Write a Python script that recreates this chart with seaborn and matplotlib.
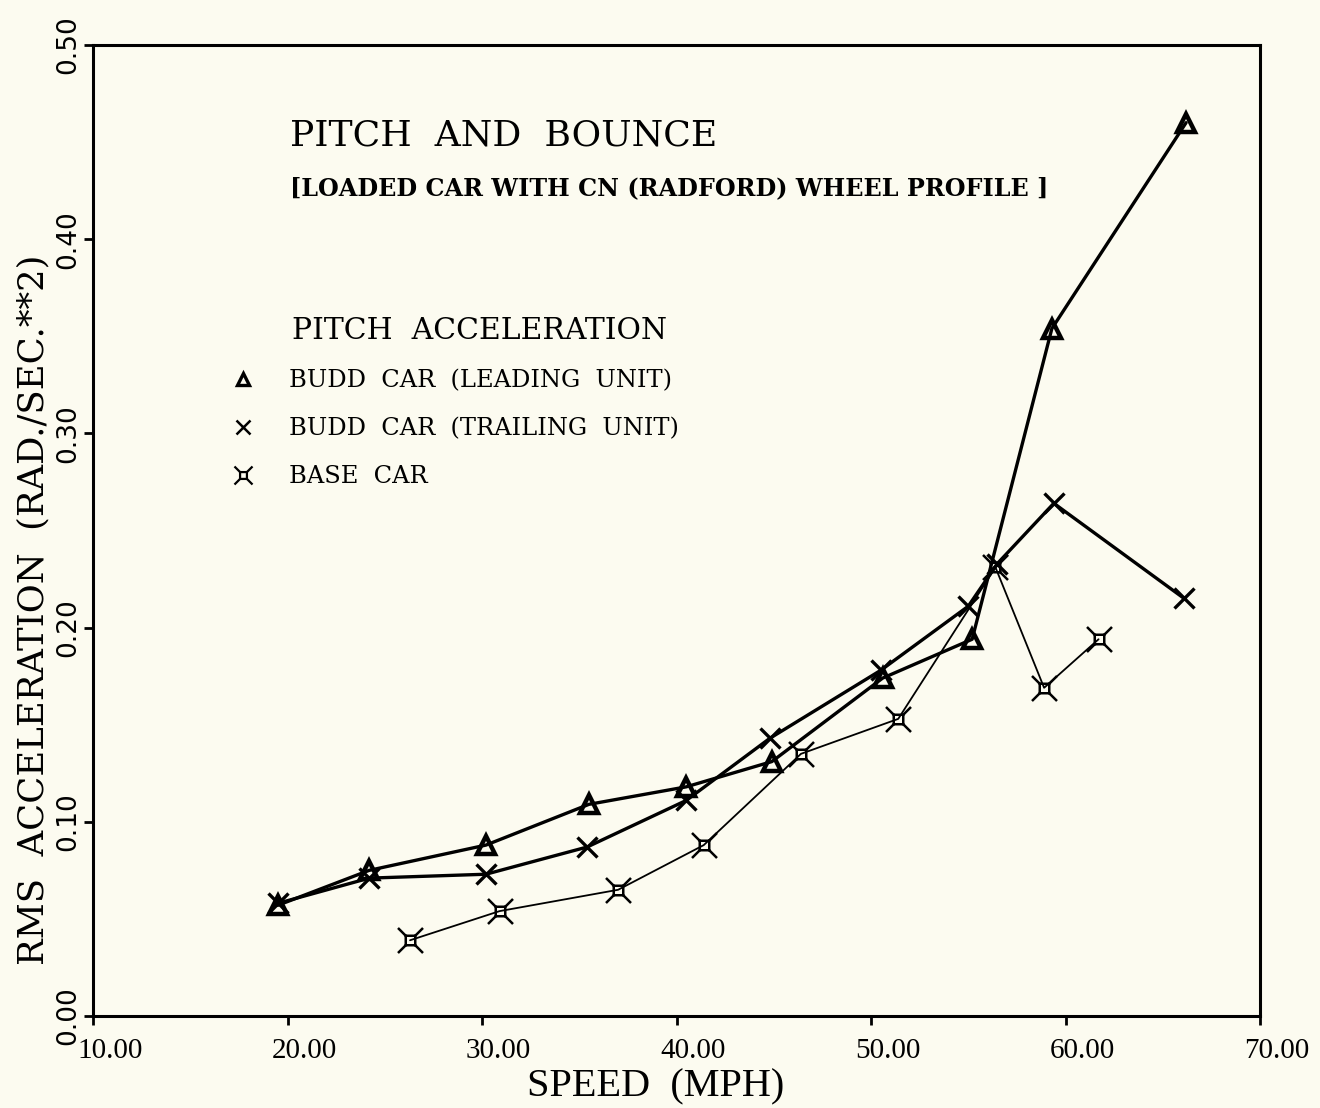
import numpy as np
import pandas as pd
import matplotlib
matplotlib.use("Agg")
import matplotlib.pyplot as plt
from matplotlib.path import Path
from matplotlib.lines import Line2D
import matplotlib.transforms as mtransforms
import seaborn as sns

# ---- data ----
lead_speed = [19.5, 24.2, 30.2, 35.5, 40.5, 44.9, 50.6, 55.2, 59.3, 66.2]
lead_acc   = [0.057, 0.075, 0.088, 0.109, 0.118, 0.131, 0.174, 0.194, 0.354, 0.460]

trail_speed = [19.5, 24.2, 30.2, 35.4, 40.5, 44.8, 50.5, 55.0, 56.5, 59.4, 66.1]
trail_acc   = [0.058, 0.071, 0.073, 0.087, 0.111, 0.143, 0.178, 0.211, 0.233, 0.264, 0.215]

base_speed = [26.3, 30.9, 37.0, 41.4, 46.4, 51.4, 56.4, 58.9, 61.7]
base_acc   = [0.039, 0.054, 0.065, 0.088, 0.135, 0.153, 0.231, 0.169, 0.194]

series_names = ["BUDD CAR (LEADING UNIT)", "BUDD CAR (TRAILING UNIT)", "BASE CAR"]
x_ticks = [10, 20, 30, 40, 50, 60, 70]
y_ticks = [0.0, 0.1, 0.2, 0.3, 0.4, 0.5]

df = pd.concat([
    pd.DataFrame({"speed": lead_speed, "acc": lead_acc, "series": series_names[0]}),
    pd.DataFrame({"speed": trail_speed, "acc": trail_acc, "series": series_names[1]}),
    pd.DataFrame({"speed": base_speed, "acc": base_acc, "series": series_names[2]}),
], ignore_index=True)

# ---- style ----
sns.set_theme(style="white")
bg = "#FCFBF0"
SERIF = ["DejaVu Serif"]
NARROW = ["Liberation Serif", "DejaVu Serif"]
plt.rcParams["font.family"] = SERIF
plt.rcParams["text.color"] = "black"
plt.rcParams["axes.labelcolor"] = "black"
plt.rcParams["xtick.color"] = "black"
plt.rcParams["ytick.color"] = "black"

fig = plt.figure(figsize=(13.2, 11.08), dpi=100, facecolor=bg)
W, H = 1320, 1108
x0, x1, ytop, ybot = 93, 1260, 45, 1016
ax = fig.add_axes([x0 / W, (H - ybot) / H, (x1 - x0) / W, (ybot - ytop) / H])
ax.set_facecolor(bg)

# custom "base car" marker: small square with diagonal spikes from its corners
s = 0.38
verts = [(-s, -s), (s, -s), (s, s), (-s, s), (-s, -s),
         (s, s), (1, 1),
         (-s, s), (-1, 1),
         (-s, -s), (-1, -1),
         (s, -s), (1, -1)]
codes = [Path.MOVETO, Path.LINETO, Path.LINETO, Path.LINETO, Path.CLOSEPOLY,
         Path.MOVETO, Path.LINETO,
         Path.MOVETO, Path.LINETO,
         Path.MOVETO, Path.LINETO,
         Path.MOVETO, Path.LINETO]
base_marker = Path(verts, codes)

styles = {
    series_names[0]: dict(marker="^", markersize=13, markeredgewidth=3.2, lw=2.4,
                          markerfacecolor="none"),
    series_names[1]: dict(marker="x", markersize=14, markeredgewidth=2.4, lw=2.4),
    series_names[2]: dict(marker=base_marker, markersize=18, markeredgewidth=1.8, lw=1.3,
                          markerfacecolor="none"),
}

for name in series_names:
    sub = df[df["series"] == name]
    st = styles[name]
    sns.lineplot(data=sub, x="speed", y="acc", ax=ax, sort=False, estimator=None,
                 color="black", linewidth=st["lw"], marker=st["marker"],
                 markersize=st["markersize"], markeredgewidth=st["markeredgewidth"],
                 markeredgecolor="black",
                 markerfacecolor=st.get("markerfacecolor", "black"), legend=False)

ax.set_xlim(10, 70)
ax.set_ylim(0, 0.5)
ax.set_xticks(x_ticks)
ax.set_yticks(y_ticks)
ax.set_xticklabels([f"{v:.2f}" for v in x_ticks], fontsize=21, family=NARROW)
ax.set_yticklabels([f"{v:.2f}" for v in y_ticks], fontsize=19, rotation=90,
                   va="center", family=["DejaVu Sans"])
ax.tick_params(axis="both", direction="out", length=6.5, width=2, color="black",
               bottom=True, left=True)
ax.tick_params(axis="x", pad=9)
ax.tick_params(axis="y", pad=2)
offset = mtransforms.ScaledTranslation(-16 / 100, 0, fig.dpi_scale_trans)
for lab in ax.get_xticklabels():
    lab.set_horizontalalignment("left")
    lab.set_transform(lab.get_transform() + offset)

for sp in ax.spines.values():
    sp.set_visible(True)
    sp.set_color("black")
    sp.set_linewidth(2.2)

ax.set_xlabel("SPEED  (MPH)", fontsize=29, family=NARROW)
ax.xaxis.set_label_coords((656 - x0) / (x1 - x0), (ybot - 1068) / (ybot - ytop))
ax.set_ylabel("RMS  ACCELERATION  (RAD./SEC.**2)", fontsize=25.5)
ax.yaxis.set_label_coords((50 - x0) / (x1 - x0), (ybot - 610) / (ybot - ytop))

def fx(px):
    return (px - x0) / (x1 - x0)

def fy(py):
    return (ybot - py) / (ybot - ytop)

ax.text(fx(290), fy(146), "PITCH  AND  BOUNCE", transform=ax.transAxes,
        fontsize=26, va="baseline", ha="left")
ax.text(fx(290), fy(195), "[LOADED CAR WITH CN (RADFORD) WHEEL PROFILE ]",
        transform=ax.transAxes, fontsize=17.2, fontweight="bold", va="baseline", ha="left")
ax.text(fx(292), fy(339), "PITCH  ACCELERATION", transform=ax.transAxes,
        fontsize=21.5, va="baseline", ha="left")

handles = [
    Line2D([], [], ls="none", color="black", marker="^", markersize=9,
           markeredgewidth=2.4, markerfacecolor="none"),
    Line2D([], [], ls="none", color="black", marker="x", markersize=10,
           markeredgewidth=1.8),
    Line2D([], [], ls="none", color="black", marker=base_marker, markersize=13,
           markeredgewidth=1.6, markerfacecolor="none"),
]
labels = ["BUDD  CAR  (LEADING  UNIT)", "BUDD  CAR  (TRAILING  UNIT)", "BASE  CAR"]
leg = ax.legend(handles, labels, loc="upper left",
                bbox_to_anchor=(fx(228), fy(369)), frameon=False,
                fontsize=17.4, handlelength=1.2, handletextpad=1.33,
                labelspacing=1.04, borderpad=0, borderaxespad=0)

fig.savefig("out.png", dpi=100, facecolor=bg)
